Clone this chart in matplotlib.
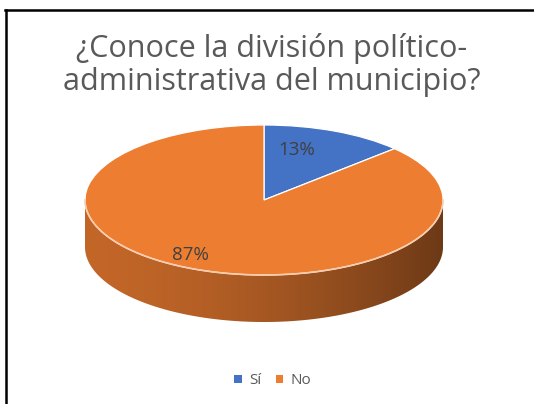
import matplotlib.pyplot as plt
import matplotlib.lines as mlines
from matplotlib.colors import to_rgb
from matplotlib.patches import Patch, Polygon
import numpy as np

plt.rcParams['font.family'] = ['Open Sans', 'DejaVu Sans']

# chart data
title = '¿Conoce la división político-\nadministrativa del municipio?'
categories = ['Sí', 'No']
values = [13, 87]
colors = ['#4472C4', '#ED7D31']

W, H = 534, 404
fig = plt.figure(figsize=(W / 100, H / 100), dpi=100)
fig.patch.set_facecolor('white')

# pie ellipse in pixels: centre, half-width, half-height, wall depth
cx, cy = 264, H - 200
rx, ry = 179, 75
depth = 47 / ry

ax = fig.add_axes([0, 0, 1, 1])
wedges, texts, autotexts = ax.pie(
    values, colors=colors, startangle=90, counterclock=False, radius=1,
    autopct='%1.0f%%', pctdistance=0.74,
    wedgeprops=dict(edgecolor='white', linewidth=0.9),
    textprops=dict(color='#404040', fontsize=13.5))
ax.set_aspect('auto')
ax.set_xlim(-cx / rx, (W - cx) / rx)
ax.set_ylim(-cy / ry, (H - cy) / ry)
ax.axis('off')

# Excel puts the labels a bit off the wedge middle (perspective); nudge them
label_px = [(297, 150), (190, 255)]
for t, (px, py) in zip(autotexts, label_px):
    t.set_position(((px - cx) / rx, (H - py - cy) / ry))

# side wall of the 3D pie (front half), coloured by the wedge it belongs to
theta = np.linspace(np.pi, 2 * np.pi, 300)
xs = np.cos(theta)
ytop = np.sin(theta)
wall = Polygon(np.column_stack([np.r_[xs, xs[::-1]], np.r_[ytop, ytop[::-1] - depth]]),
               closed=True, facecolor='none', edgecolor='none')
ax.add_patch(wall)

fracs = np.array(values) / np.sum(values)
bounds = 90 - 360 * np.cumsum(np.r_[0, fracs])  # wedge edges, clockwise from top
ncol = 400
gx = np.linspace(-1, 1, ncol)
ang = (360 - np.degrees(np.arccos(gx))) % 360  # front-half angle of each column
img = np.ones((2, ncol, 3))
for j, a in enumerate(ang):
    for i in range(len(values)):
        hi, lo = bounds[i], bounds[i + 1]
        aa = a
        while aa > hi:
            aa -= 360
        if lo <= aa <= hi:
            break
    shade = 0.82 - 0.36 * ((gx[j] + 1) / 2) ** 1.6
    img[:, j, :] = np.array(to_rgb(colors[i])) * shade
im = ax.imshow(img, extent=[-1, 1, -1 - depth, 0], aspect='auto', zorder=0,
               interpolation='bilinear')
im.set_clip_path(wall)

# light rim along the front edge of the top face
ax.plot(xs, ytop, color='#F8CBAD', lw=1.2, zorder=3)

# title
fig.text(272 / W, 1 - 65 / H, title, ha='center', va='center',
         fontsize=22, color='#595959', linespacing=1.15)

# legend
handles = [Patch(facecolor=c, edgecolor='none') for c in colors]
fig.legend(handles, categories, loc='center', bbox_to_anchor=(273 / W, 1 - 381 / H),
           ncol=2, frameon=False, fontsize=11, labelcolor='#595959',
           handlelength=0.5, handleheight=0.5, handletextpad=0.5, columnspacing=0.9)

# frame lines (top and left)
fig.add_artist(mlines.Line2D([5 / W, 1], [1 - 10 / H, 1 - 10 / H], color='black', lw=1.8,
                             transform=fig.transFigure))
fig.add_artist(mlines.Line2D([6 / W, 6 / W], [0, 1 - 10 / H], color='black', lw=1.8,
                             transform=fig.transFigure))

fig.savefig('out.png', dpi=100)
